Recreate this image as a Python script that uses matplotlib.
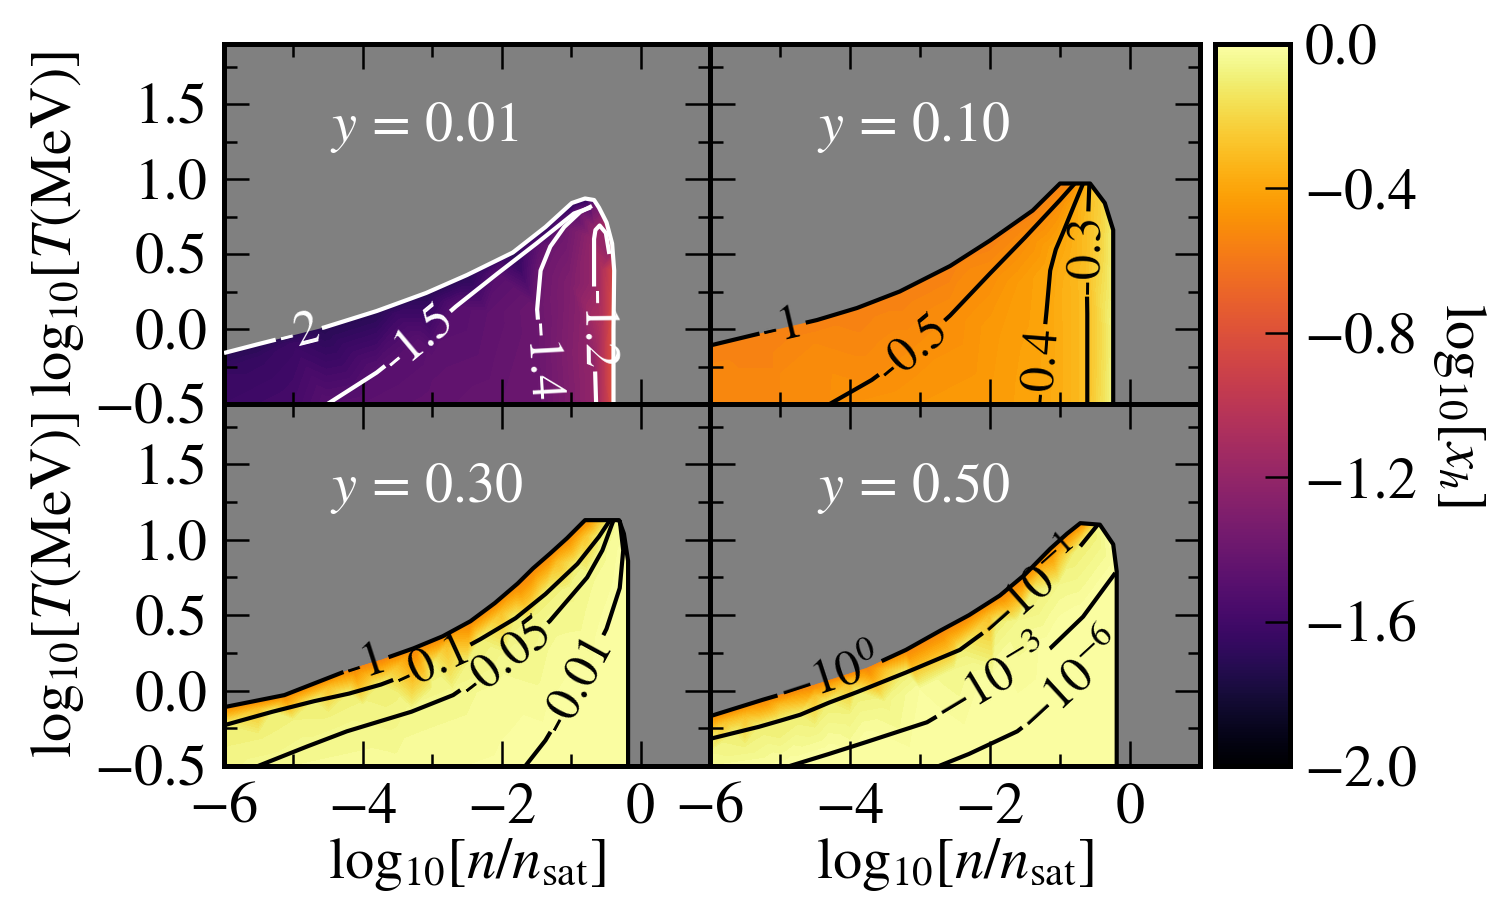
import numpy as np
import matplotlib
matplotlib.use("Agg")
import matplotlib.pyplot as plt
import matplotlib.tri as mtri
import matplotlib.contour as mcontour
from matplotlib.patches import Polygon
from matplotlib.colors import Normalize
from matplotlib.cm import ScalarMappable
from matplotlib.ticker import MultipleLocator

plt.rcParams['font.family'] = ['STIXGeneral', 'DejaVu Serif']
plt.rcParams['mathtext.fontset'] = 'stix'

# ---- y = 0.01 ------------------------------------------------------------
# edge of the region where the table has data (upper edge, then right edge)
y001_edge_x = [-6.0, -5.5, -4.56, -3.8, -3.09, -2.5, -1.84, -1.37, -0.99, -0.8, -0.67, -0.6, -0.49, -0.41, -0.38, -0.39, -0.39]
y001_edge_t = [-0.16, -0.1, 0.01, 0.12, 0.24, 0.36, 0.51, 0.68, 0.84, 0.87, 0.86, 0.81, 0.71, 0.57, 0.39, 0.0, -0.5]
y001_edge_v = [-1.72, -1.72, -1.72, -1.72, -1.72, -1.72, -1.72, -1.72, -1.72, -1.72, -1.6, -1.35, -1.1, -0.95, -0.85, -0.8, -0.8]
y001_levels = [-2.0, -1.5, -1.4, -1.2]
y001_c150_x = [-4.51, -3.8, -3.2, -2.66, -2.06, -1.5, -0.96, -0.72]
y001_c150_t = [-0.5, -0.29, -0.07, 0.15, 0.37, 0.57, 0.77, 0.81]
y001_c140_x = [-1.41, -1.45, -1.49, -1.44, -1.3, -1.1, -0.87, -0.7]
y001_c140_t = [-0.5, -0.1, 0.13, 0.39, 0.55, 0.68, 0.78, 0.82]
y001_c120_x = [-0.64, -0.66, -0.67, -0.67, -0.65, -0.59, -0.5, -0.45]
y001_c120_t = [-0.5, -0.2, 0.3, 0.6, 0.66, 0.69, 0.64, 0.5]
y001_fill_x = [-6.0, -6.0, -5.0, -4.0, -3.0, -2.0, -1.0, -0.52, -0.45, -5.0, -3.0, -2.2, -1.0, -0.55, -0.55, -5.5, -3.5, -2.0, -1.2]
y001_fill_t = [-0.5, -0.3, -0.5, -0.5, -0.5, -0.5, -0.5, -0.5, -0.5, -0.1, -0.2, 0.1, 0.3, 0.0, 0.4, -0.2, 0.1, 0.45, 0.72]
y001_fill_v = [-1.62, -1.64, -1.58, -1.48, -1.45, -1.42, -1.3, -1.0, -0.9, -1.63, -1.47, -1.46, -1.3, -1.05, -1.07, -1.65, -1.62, -1.6, -1.58]
y001_label_x = [-4.94, -3.2, -1.43, -0.66]
y001_label_t = [0.0, -0.07, -0.22, 0.0]

# ---- y = 0.10 ------------------------------------------------------------
y010_edge_x = [-6.0, -5.2, -4.47, -3.9, -3.29, -2.57, -2.0, -1.39, -1.0, -0.57, -0.36, -0.24, -0.24, -0.24]
y010_edge_t = [-0.11, -0.02, 0.06, 0.14, 0.25, 0.42, 0.59, 0.79, 0.97, 0.97, 0.84, 0.66, 0.0, -0.5]
y010_edge_v = [-0.56, -0.56, -0.56, -0.56, -0.56, -0.56, -0.56, -0.56, -0.56, -0.28, -0.2, -0.1, -0.07, -0.06]
y010_levels = [-1.0, -0.5, -0.4, -0.3]
y010_c050_x = [-4.29, -3.69, -3.11, -2.57, -2.0, -1.5, -1.0, -0.79]
y010_c050_t = [-0.5, -0.34, -0.14, 0.09, 0.37, 0.61, 0.86, 0.97]
y010_c040_x = [-1.3, -1.27, -1.19, -1.14, -1.06, -0.96, -0.82, -0.67]
y010_c040_t = [-0.5, -0.25, 0.13, 0.39, 0.53, 0.64, 0.8, 0.97]
y010_c030_x = [-0.61, -0.61, -0.62, -0.61, -0.59, -0.58]
y010_c030_t = [-0.5, 0.1, 0.4, 0.6, 0.85, 0.97]
y010_fill_x = [-6.0, -6.0, -5.0, -4.0, -3.0, -2.0, -0.95, -0.45, -0.32, -5.0, -3.5, -2.0, -1.6, -0.9, -0.42, -0.42, -4.5, -3.0, -2.4, -1.6]
y010_fill_t = [-0.5, -0.3, -0.5, -0.5, -0.5, -0.5, -0.5, -0.5, -0.5, -0.3, 0.05, 0.0, 0.3, 0.3, 0.0, 0.6, -0.1, 0.15, 0.42, 0.66]
y010_fill_v = [-0.52, -0.53, -0.52, -0.48, -0.46, -0.44, -0.36, -0.2, -0.12, -0.52, -0.53, -0.45, -0.44, -0.35, -0.2, -0.22, -0.52, -0.53, -0.53, -0.53]
y010_label_x = [-4.96, -3.11, -1.28, -0.62]
y010_label_t = [0.0, -0.13, -0.25, 0.5]

# ---- y = 0.30 ------------------------------------------------------------
y030_edge_x = [-6.0, -5.13, -4.13, -3.7, -3.27, -2.85, -2.45, -2.1, -1.77, -1.55, -1.3, -1.06, -0.8, -0.31, -0.24, -0.18, -0.18, -0.18]
y030_edge_t = [-0.11, -0.03, 0.15, 0.21, 0.28, 0.36, 0.46, 0.58, 0.71, 0.81, 0.91, 1.01, 1.13, 1.13, 1.04, 0.86, 0.0, -0.5]
y030_edge_v = [-0.55, -0.55, -0.55, -0.55, -0.55, -0.55, -0.55, -0.55, -0.55, -0.55, -0.55, -0.55, -0.55, -0.01, -0.005, -0.003, -0.002, -0.002]
y030_levels = [-1.0, -0.1, -0.05, -0.01]
y030_c100_x = [-6.0, -5.3, -4.7, -4.2, -3.74, -2.99, -2.31, -1.8, -1.37, -0.91, -0.6, -0.44]
y030_c100_t = [-0.23, -0.14, -0.07, -0.02, 0.04, 0.17, 0.34, 0.48, 0.64, 0.84, 1.02, 1.13]
y030_c050_x = [-5.51, -4.8, -4.23, -3.3, -2.7, -1.94, -1.31, -0.77, -0.55, -0.39]
y030_c050_t = [-0.5, -0.37, -0.27, -0.14, -0.03, 0.21, 0.46, 0.75, 0.93, 1.13]
y030_c010_x = [-1.66, -1.37, -0.89, -0.49, -0.3, -0.25, -0.3]
y030_c010_t = [-0.5, -0.33, 0.04, 0.41, 0.68, 0.93, 1.13]
y030_fill_x = [-6.0, -6.0, -5.0, -3.5, -2.0, -1.0, -0.5, -0.2, -5.0, -4.0, -3.0, -2.0, -1.5, -0.8, -0.5, -0.4,
               -5.5, -4.5, -3.5, -2.8, -2.0, -1.2, -0.8,
               -5.5, -4.5, -3.5, -2.5, -1.6, -1.0]
y030_fill_t = [-0.5, -0.35, -0.5, -0.5, -0.5, -0.5, -0.5, -0.5, -0.2, -0.1, 0.0, 0.0, 0.45, 0.3, 0.0, 0.7,
               -0.12, 0.02, 0.16, 0.3, 0.52, 0.85, 1.02,
               -0.3, -0.16, -0.03, 0.17, 0.45, 0.68]
y030_fill_v = [-0.07, -0.085, -0.04, -0.03, -0.015, -0.006, -0.003, -0.002, -0.08, -0.075, -0.07, -0.03, -0.07, -0.03, -0.005, -0.02,
               -0.3, -0.3, -0.3, -0.3, -0.3, -0.3, -0.28,
               -0.085, -0.085, -0.085, -0.08, -0.075, -0.07]
y030_label_x = [-3.96, -2.99, -1.94, -0.89]
y030_label_t = [0.18, 0.17, 0.21, 0.04]

# ---- y = 0.50 ------------------------------------------------------------
y050_edge_x = [-6.0, -5.24, -4.5, -3.76, -3.2, -2.7, -2.3, -1.86, -1.5, -1.14, -0.9, -0.71, -0.43, -0.24, -0.19, -0.19, -0.19]
y050_edge_t = [-0.17, -0.06, 0.04, 0.15, 0.27, 0.4, 0.5, 0.63, 0.77, 0.94, 1.04, 1.11, 1.1, 0.97, 0.79, 0.0, -0.5]
y050_edge_v = [-0.55, -0.55, -0.55, -0.55, -0.55, -0.55, -0.55, -0.55, -0.55, -0.55, -0.55, -0.55, -0.05, -0.003, -1e-4, -1e-7, -1e-7]
y050_levels = [-1.0, -1e-1, -1e-3, -1e-6]
y050_c1e1_x = [-6.0, -5.65, -5.3, -5.0, -4.71, -4.3, -3.9, -3.2, -2.43, -1.9, -1.39, -0.81, -0.53, -0.46]
y050_c1e1_t = [-0.32, -0.28, -0.24, -0.2, -0.16, -0.08, -0.01, 0.12, 0.27, 0.45, 0.65, 0.9, 1.06, 1.1]
y050_c1e3_x = [-4.86, -4.3, -3.76, -2.9, -1.95, -1.14, -0.67, -0.21]
y050_c1e3_t = [-0.5, -0.42, -0.34, -0.21, 0.05, 0.28, 0.49, 0.78]
y050_c1e6_x = [-2.73, -2.3, -1.61, -1.2, -0.81, -0.45, -0.19]
y050_c1e6_t = [-0.5, -0.42, -0.27, -0.12, 0.04, 0.2, 0.33]
y050_fill_x = [-6.0, -5.0, -4.0, -3.0, -2.0, -1.0, -0.25, -6.0, -3.0, -1.0, -2.0, -1.0,
               -5.75, -5.5, -5.0, -4.5, -4.0, -3.5, -2.5, -0.7,
               -5.5, -5.0, -4.5, -4.0, -3.5, -3.0, -2.5, -1.6, -1.0]
y050_fill_t = [-0.5, -0.5, -0.5, -0.5, -0.5, -0.5, -0.5, -0.42, 0.0, 0.4, 0.5, 0.9,
               -0.2, -0.17, -0.1, -0.03, 0.06, 0.14, 0.33, 1.03,
               -0.38, -0.32, -0.25, -0.16, -0.08, 0.0, 0.14, 0.46, 0.7]
y050_fill_v = [-0.04, -0.01, -5e-4, -2e-5, -5e-7, -1e-8, -1e-9, -0.06, -0.02, -0.0015, -0.3, -0.3,
               -0.3, -0.3, -0.3, -0.3, -0.3, -0.3, -0.3, -0.28,
               -0.08, -0.08, -0.08, -0.08, -0.07, -0.07, -0.06, -0.06, -0.06]
y050_label_x = [-4.29, -1.39, -1.95, -0.81]
y050_label_t = [0.08, 0.66, 0.05, 0.04]

y_values = ['0.01', '0.10', '0.30', '0.50']
cbar_ticks = [0.0, -0.4, -0.8, -1.2, -1.6, -2.0]

fmt_plain = '%g'
fmt_pow = {-1.0: r'$-10^{0}$', -1e-1: r'$-10^{-1}$', -1e-3: r'$-10^{-3}$', -1e-6: r'$-10^{-6}$'}

panels = [
    dict(edge=(y001_edge_x, y001_edge_t, y001_edge_v), levels=y001_levels,
         lines=[(y001_c150_x, y001_c150_t), (y001_c140_x, y001_c140_t), (y001_c120_x, y001_c120_t)],
         fill=(y001_fill_x, y001_fill_t, y001_fill_v), labels=(y001_label_x, y001_label_t),
         color='white', fmt=fmt_plain),
    dict(edge=(y010_edge_x, y010_edge_t, y010_edge_v), levels=y010_levels,
         lines=[(y010_c050_x, y010_c050_t), (y010_c040_x, y010_c040_t), (y010_c030_x, y010_c030_t)],
         fill=(y010_fill_x, y010_fill_t, y010_fill_v), labels=(y010_label_x, y010_label_t),
         color='black', fmt=fmt_plain),
    dict(edge=(y030_edge_x, y030_edge_t, y030_edge_v), levels=y030_levels,
         lines=[(y030_c100_x, y030_c100_t), (y030_c050_x, y030_c050_t), (y030_c010_x, y030_c010_t)],
         fill=(y030_fill_x, y030_fill_t, y030_fill_v), labels=(y030_label_x, y030_label_t),
         color='black', fmt=fmt_plain),
    dict(edge=(y050_edge_x, y050_edge_t, y050_edge_v), levels=y050_levels,
         lines=[(y050_c1e1_x, y050_c1e1_t), (y050_c1e3_x, y050_c1e3_t), (y050_c1e6_x, y050_c1e6_t)],
         fill=(y050_fill_x, y050_fill_t, y050_fill_v), labels=(y050_label_x, y050_label_t),
         color='black', fmt=fmt_pow),
]

norm = Normalize(vmin=-2.0, vmax=0.0)
cmap = 'inferno'

fig = plt.figure(figsize=(5, 3), dpi=300)
L, M, R = 224 / 1500, 710 / 1500, 1200 / 1500
T, Mi, B = 1 - 44 / 900, 1 - 404 / 900, 1 - 766 / 900
boxes = [[L, Mi, M - L, T - Mi], [M, Mi, R - M, T - Mi],
         [L, B, M - L, Mi - B], [M, B, R - M, Mi - B]]


def draw_panel(ax, p):
    ex, et, ev = p['edge']
    fx, ft, fv = p['fill']
    px = list(ex) + list(fx)
    pt = list(et) + list(ft)
    pv = list(ev) + list(fv)
    for (lx, lt), lev in zip(p['lines'], p['levels'][1:]):
        px += list(lx)
        pt += list(lt)
        pv += [lev] * len(lx)
    tri = mtri.Triangulation(px, pt)
    cf = ax.tricontourf(tri, pv, levels=np.linspace(-2, 0, 101), cmap=cmap,
                        norm=norm, extend='both', zorder=1)
    clip = Polygon(np.column_stack([list(ex) + [-6.0], list(et) + [-0.5]]),
                   closed=True, transform=ax.transData)
    cf.set_clip_path(clip)

    allsegs = [[np.column_stack([ex, et])]]
    allsegs += [[np.column_stack([lx, lt])] for lx, lt in p['lines']]
    cs = mcontour.ContourSet(ax, p['levels'], allsegs, colors=p['color'],
                             linewidths=1.0, linestyles='solid', zorder=3)
    lx, lt = p['labels']
    ax.clabel(cs, manual=list(zip(lx, lt)), inline=True, fmt=p['fmt'],
              fontsize=12, colors=p['color'], inline_spacing=3)


for i, (box, p) in enumerate(zip(boxes, panels)):
    ax = fig.add_axes(box)
    ax.set_facecolor('#808080')
    ax.set_xlim(-6, 1)
    ax.set_ylim(-0.5, 1.9)
    ax.xaxis.set_major_locator(MultipleLocator(2))
    ax.xaxis.set_minor_locator(MultipleLocator(1))
    ax.yaxis.set_major_locator(MultipleLocator(0.5))
    ax.yaxis.set_minor_locator(MultipleLocator(0.25))
    ax.tick_params(which='both', direction='in', top=True, right=True,
                   labelsize=14, width=0.6, pad=4)
    ax.tick_params(which='major', length=6)
    ax.tick_params(which='minor', length=3)
    for s in ax.spines.values():
        s.set_linewidth(1.2)
    draw_panel(ax, p)
    ax.text(0.218, 0.767, r'$y\,=\,%s$' % y_values[i], transform=ax.transAxes,
            color='white', fontsize=13.5, va='center', ha='left')
    if i % 2 == 1:
        ax.tick_params(labelleft=False)
    else:
        ax.set_ylabel(r'$\mathrm{log}_{10}[T(\mathrm{MeV})]$', fontsize=14, labelpad=2)
    if i < 2:
        ax.tick_params(labelbottom=False)
    else:
        ax.set_xlabel(r'$\mathrm{log}_{10}[n/n_{\rm sat}]$', fontsize=14, labelpad=0)

cax = fig.add_axes([1215 / 1500, B, 75 / 1500, T - B])
cb = fig.colorbar(ScalarMappable(norm=norm, cmap=cmap), cax=cax, ticks=cbar_ticks)
cb.ax.tick_params(direction='in', length=6, width=0.6, labelsize=14)
cb.outline.set_linewidth(1.2)
cb.set_label(r'$\mathrm{log}_{10}[x_h]$', rotation=270, fontsize=14, labelpad=17)

fig.savefig('out.png', dpi=300)
